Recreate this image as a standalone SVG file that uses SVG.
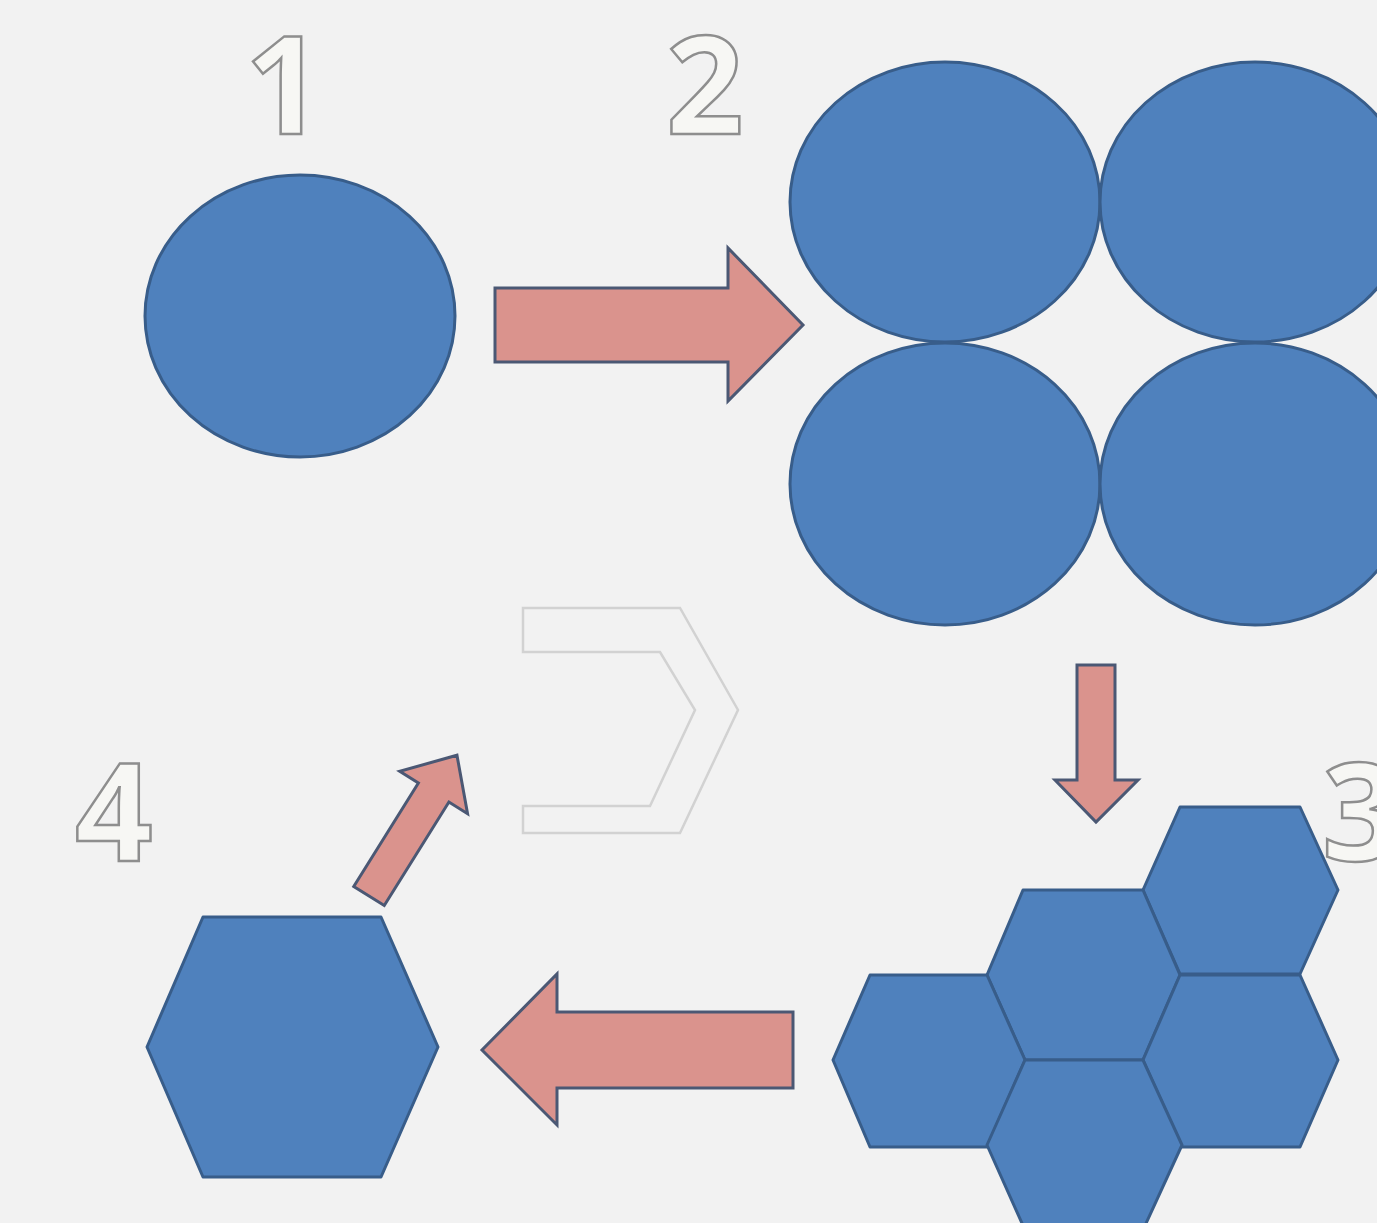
<svg xmlns="http://www.w3.org/2000/svg" width="1377" height="1223" viewBox="0 0 1377 1223">
<style>
.blue{fill:#4f81bd;stroke:#385d8a;stroke-width:3;stroke-linejoin:round}
.arr{fill:#da938d;stroke:#4b5874;stroke-width:3;stroke-linejoin:miter}
.num{font-family:"Noto Sans","Liberation Sans",Arial,sans-serif;font-weight:bold;font-size:136px;fill:#f7f7f4;stroke:#8e8e8e;stroke-width:2.5}
.chev{fill:none;stroke:#d2d2d2;stroke-width:2.5}
</style>
<rect width="1377" height="1223" fill="#f2f2f2"/>
<g id="label-1"><text class="num" x="245" y="134">1</text></g>
<g id="label-2"><text class="num" x="666" y="134">2</text></g>
<g id="label-3"><text class="num" x="1322" y="861">3</text></g>
<g id="label-4"><text class="num" x="75" y="861">4</text></g>
<g id="node-1"><ellipse class="blue" cx="300" cy="316" rx="155" ry="141"/></g>
<g id="node-2">
<ellipse class="blue" cx="945" cy="202" rx="155" ry="140"/>
<ellipse class="blue" cx="1255" cy="202" rx="155" ry="140"/>
<ellipse class="blue" cx="945" cy="484" rx="155" ry="141"/>
<ellipse class="blue" cx="1255" cy="484" rx="155" ry="141"/>
</g>
<g id="node-3">
<polygon class="blue" points="1180,807 1300,807 1338,890 1300,974 1180,974 1143,890"/>
<polygon class="blue" points="1023,890 1143,890 1180,975 1143,1060 1025,1060 987,975"/>
<polygon class="blue" points="870,975 987,975 1025,1060 987,1147 870,1147 833,1060"/>
<polygon class="blue" points="1180,975 1300,975 1338,1060 1300,1147 1182,1147 1143,1060"/>
<polygon class="blue" points="1025,1060 1143,1060 1182,1145 1143,1230 1025,1230 987,1145"/>
</g>
<g id="node-4"><polygon class="blue" points="203,917 381,917 438,1047 381,1177 203,1177 147,1047"/></g>
<g id="node-5"><polygon class="chev" points="523,608 680,608 738,710 680,833 523,833 523,806 650,806 695,710 660,652 523,652"/></g>
<g id="connectors">
<polygon class="arr" points="495,288 728,288 728,248 803,325 728,401 728,362 495,362"/>
<polygon class="arr" points="1077,665 1115,665 1115,780 1138,780 1096,822 1055,780 1077,780"/>
<polygon class="arr" points="793,1012 557,1012 557,974 482,1050 557,1125 557,1088 793,1088"/>
<polygon class="arr" transform="translate(369,896) rotate(-58)" points="0,-18 122,-18 122,-40 166,0 122,40 122,18 0,18"/>
</g>
</svg>
